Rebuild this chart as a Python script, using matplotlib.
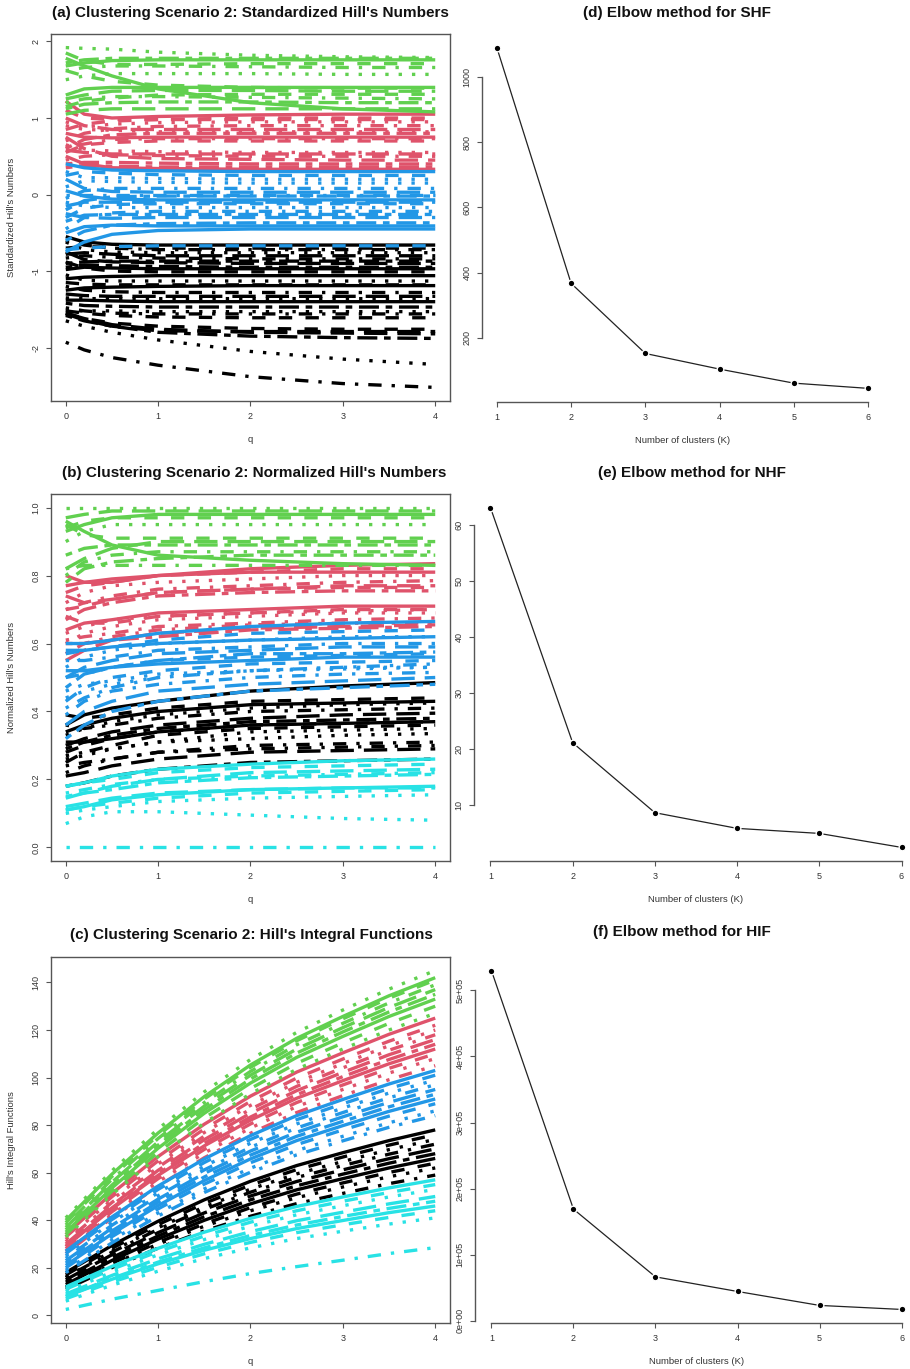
import matplotlib
matplotlib.use("Agg")
import matplotlib.pyplot as plt

plt.rcParams['font.family'] = ['Liberation Sans', 'DejaVu Sans']
plt.rcParams['axes.unicode_minus'] = False

# --------------------------------------------------
# Data
# --------------------------------------------------
q_grid = [0, 0.2, 0.5, 1, 2, 3, 4]
q_grid_hif = [0, 0.5, 1, 1.5, 2, 2.5, 3, 3.5, 4]
k_values = [1, 2, 3, 4, 5, 6]

# (a) standardized Hill's numbers, one row per community
shf_black = [
    [-0.55, -0.62, -0.65, -0.66, -0.66, -0.66, -0.66],
    [-0.70, -0.68, -0.69, -0.70, -0.70, -0.70, -0.70],
    [-0.62, -0.72, -0.75, -0.76, -0.76, -0.76, -0.76],
    [-0.83, -0.80, -0.82, -0.83, -0.84, -0.84, -0.84],
    [-0.75, -0.85, -0.88, -0.89, -0.90, -0.90, -0.90],
    [-0.95, -0.92, -0.93, -0.94, -0.95, -0.95, -0.95],
    [-1.10, -1.08, -1.07, -1.06, -1.06, -1.06, -1.06],
    [-0.88, -0.96, -1.00, -1.01, -1.01, -1.01, -1.01],
    [-1.05, -1.12, -1.13, -1.13, -1.13, -1.13, -1.13],
    [-1.20, -1.25, -1.27, -1.28, -1.28, -1.28, -1.28],
    [-1.30, -1.32, -1.33, -1.33, -1.33, -1.33, -1.33],
    [-1.42, -1.45, -1.46, -1.47, -1.47, -1.47, -1.47],
    [-1.25, -1.22, -1.21, -1.20, -1.19, -1.19, -1.19],
    [-1.55, -1.62, -1.68, -1.72, -1.75, -1.76, -1.76],
    [-1.65, -1.72, -1.80, -1.90, -2.05, -2.15, -2.22],
    [-1.93, -2.03, -2.13, -2.23, -2.38, -2.47, -2.52],
    [-1.55, -1.62, -1.70, -1.76, -1.80, -1.81, -1.82],
    [-1.58, -1.65, -1.72, -1.80, -1.85, -1.87, -1.88],
    [-1.38, -1.38, -1.39, -1.40, -1.40, -1.40, -1.40],
    [-1.52, -1.55, -1.58, -1.60, -1.61, -1.61, -1.61],
    [-1.52, -1.52, -1.52, -1.53, -1.53, -1.53, -1.53],
    [-0.60, -0.66, -0.70, -0.72, -0.72, -0.72, -0.72],
    [-0.78, -0.76, -0.78, -0.80, -0.80, -0.80, -0.80],
    [-0.90, -0.88, -0.87, -0.87, -0.87, -0.87, -0.87],
    [-0.98, -0.95, -0.96, -0.97, -0.97, -0.97, -0.97],
    [-1.15, -1.17, -1.18, -1.18, -1.18, -1.18, -1.18],
    [-1.35, -1.36, -1.36, -1.36, -1.36, -1.36, -1.36],
    [-1.48, -1.52, -1.55, -1.56, -1.56, -1.56, -1.56],
    [-1.56, -1.64, -1.72, -1.78, -1.79, -1.79, -1.79],
]
shf_red = [
    [1.22, 1.05, 1.00, 1.02, 1.04, 1.05, 1.05],
    [0.85, 0.92, 0.96, 0.98, 1.00, 1.00, 1.00],
    [0.95, 0.88, 0.92, 0.94, 0.95, 0.95, 0.95],
    [0.70, 0.80, 0.86, 0.89, 0.90, 0.90, 0.90],
    [1.00, 0.90, 0.85, 0.85, 0.85, 0.85, 0.85],
    [0.60, 0.72, 0.78, 0.80, 0.80, 0.80, 0.80],
    [0.80, 0.75, 0.74, 0.75, 0.75, 0.75, 0.75],
    [0.55, 0.65, 0.68, 0.70, 0.70, 0.70, 0.70],
    [0.65, 0.58, 0.57, 0.56, 0.55, 0.55, 0.55],
    [0.45, 0.50, 0.52, 0.51, 0.50, 0.50, 0.50],
    [0.75, 0.60, 0.50, 0.47, 0.46, 0.45, 0.45],
    [0.40, 0.42, 0.42, 0.41, 0.40, 0.40, 0.40],
    [0.50, 0.40, 0.35, 0.34, 0.33, 0.33, 0.33],
    [1.10, 1.00, 0.98, 0.98, 0.98, 0.98, 0.98],
    [0.90, 0.85, 0.84, 0.82, 0.82, 0.82, 0.82],
    [0.62, 0.66, 0.72, 0.73, 0.73, 0.73, 0.73],
    [0.58, 0.55, 0.53, 0.53, 0.53, 0.53, 0.53],
    [0.35, 0.38, 0.37, 0.36, 0.36, 0.36, 0.36],
]
shf_green = [
    [1.68, 1.72, 1.75, 1.76, 1.76, 1.76, 1.76],
    [1.85, 1.75, 1.70, 1.70, 1.71, 1.71, 1.71],
    [1.92, 1.91, 1.90, 1.86, 1.82, 1.80, 1.79],
    [1.20, 1.25, 1.28, 1.28, 1.27, 1.26, 1.25],
    [1.25, 1.30, 1.35, 1.36, 1.36, 1.35, 1.35],
    [1.12, 1.18, 1.20, 1.21, 1.21, 1.20, 1.20],
    [1.78, 1.68, 1.55, 1.38, 1.20, 1.12, 1.08],
    [1.62, 1.55, 1.48, 1.43, 1.40, 1.39, 1.39],
    [1.50, 1.55, 1.58, 1.58, 1.58, 1.57, 1.57],
    [1.62, 1.66, 1.68, 1.68, 1.67, 1.66, 1.66],
    [1.05, 1.10, 1.12, 1.12, 1.12, 1.12, 1.12],
    [1.72, 1.76, 1.78, 1.78, 1.78, 1.78, 1.78],
    [1.30, 1.38, 1.40, 1.40, 1.40, 1.40, 1.40],
    [1.15, 1.22, 1.26, 1.30, 1.31, 1.31, 1.31],
]
shf_blue = [
    [0.40, 0.35, 0.32, 0.31, 0.30, 0.30, 0.30],
    [0.25, 0.30, 0.28, 0.26, 0.25, 0.25, 0.25],
    [0.10, 0.18, 0.17, 0.16, 0.15, 0.15, 0.15],
    [-0.05, 0.05, 0.08, 0.08, 0.08, 0.08, 0.08],
    [0.20, 0.08, 0.04, 0.03, 0.03, 0.03, 0.03],
    [-0.20, -0.08, -0.03, -0.02, -0.02, -0.02, -0.02],
    [0.05, -0.02, -0.06, -0.07, -0.07, -0.07, -0.07],
    [-0.30, -0.18, -0.13, -0.12, -0.12, -0.12, -0.12],
    [-0.10, -0.15, -0.17, -0.17, -0.17, -0.17, -0.17],
    [-0.45, -0.30, -0.24, -0.22, -0.22, -0.22, -0.22],
    [-0.25, -0.30, -0.31, -0.30, -0.30, -0.30, -0.30],
    [-0.60, -0.48, -0.40, -0.38, -0.37, -0.37, -0.37],
    [-0.75, -0.62, -0.52, -0.47, -0.45, -0.45, -0.45],
    [-0.72, -0.70, -0.68, -0.67, -0.67, -0.67, -0.67],
    [0.30, 0.22, 0.22, 0.21, 0.20, 0.20, 0.20],
    [0.00, 0.00, 0.00, 0.00, 0.00, 0.00, 0.00],
    [-0.15, -0.10, -0.10, -0.10, -0.10, -0.10, -0.10],
    [-0.35, -0.27, -0.26, -0.26, -0.26, -0.26, -0.26],
    [-0.50, -0.42, -0.40, -0.41, -0.41, -0.41, -0.41],
]

# (b) normalized Hill's numbers
nhf_black = [
    [0.36, 0.39, 0.41, 0.43, 0.46, 0.475, 0.485],
    [0.39, 0.38, 0.39, 0.41, 0.43, 0.435, 0.44],
    [0.33, 0.35, 0.37, 0.39, 0.41, 0.42, 0.425],
    [0.36, 0.35, 0.36, 0.38, 0.40, 0.405, 0.41],
    [0.30, 0.32, 0.34, 0.36, 0.38, 0.39, 0.395],
    [0.29, 0.31, 0.33, 0.35, 0.37, 0.375, 0.38],
    [0.31, 0.31, 0.32, 0.34, 0.36, 0.365, 0.37],
    [0.25, 0.28, 0.30, 0.33, 0.35, 0.355, 0.36],
    [0.27, 0.28, 0.29, 0.31, 0.32, 0.33, 0.335],
    [0.22, 0.24, 0.26, 0.28, 0.30, 0.305, 0.31],
    [0.21, 0.22, 0.24, 0.26, 0.28, 0.285, 0.29],
    [0.18, 0.19, 0.21, 0.23, 0.25, 0.255, 0.26],
    [0.34, 0.36, 0.38, 0.40, 0.42, 0.425, 0.43],
    [0.28, 0.30, 0.32, 0.34, 0.36, 0.365, 0.37],
    [0.26, 0.27, 0.29, 0.31, 0.34, 0.345, 0.35],
    [0.24, 0.25, 0.26, 0.28, 0.29, 0.295, 0.30],
]
nhf_red = [
    [0.80, 0.78, 0.78, 0.80, 0.82, 0.83, 0.835],
    [0.75, 0.77, 0.78, 0.80, 0.81, 0.82, 0.82],
    [0.72, 0.75, 0.77, 0.78, 0.79, 0.80, 0.80],
    [0.70, 0.72, 0.74, 0.76, 0.77, 0.78, 0.785],
    [0.74, 0.72, 0.73, 0.75, 0.76, 0.77, 0.77],
    [0.67, 0.70, 0.72, 0.74, 0.75, 0.755, 0.755],
    [0.64, 0.66, 0.67, 0.69, 0.70, 0.71, 0.71],
    [0.68, 0.66, 0.66, 0.68, 0.69, 0.70, 0.70],
    [0.60, 0.63, 0.65, 0.67, 0.68, 0.69, 0.69],
    [0.61, 0.62, 0.63, 0.65, 0.66, 0.67, 0.675],
    [0.55, 0.58, 0.61, 0.63, 0.645, 0.65, 0.655],
    [0.60, 0.60, 0.61, 0.62, 0.64, 0.645, 0.65],
    [0.77, 0.78, 0.79, 0.80, 0.81, 0.81, 0.81],
    [0.70, 0.71, 0.73, 0.75, 0.76, 0.765, 0.765],
    [0.63, 0.65, 0.67, 0.68, 0.69, 0.695, 0.70],
    [0.57, 0.60, 0.62, 0.64, 0.655, 0.66, 0.66],
]
nhf_green = [
    [0.93, 0.95, 0.97, 0.98, 0.98, 0.98, 0.98],
    [0.95, 0.92, 0.91, 0.91, 0.91, 0.91, 0.91],
    [1.00, 1.00, 1.00, 1.00, 1.00, 1.00, 1.00],
    [0.80, 0.84, 0.86, 0.87, 0.87, 0.87, 0.87],
    [0.82, 0.85, 0.88, 0.90, 0.90, 0.90, 0.90],
    [0.78, 0.82, 0.84, 0.85, 0.86, 0.86, 0.86],
    [0.96, 0.93, 0.89, 0.86, 0.845, 0.835, 0.83],
    [0.94, 0.96, 0.97, 0.97, 0.97, 0.97, 0.97],
    [0.90, 0.93, 0.95, 0.95, 0.95, 0.95, 0.95],
    [0.82, 0.83, 0.83, 0.83, 0.83, 0.83, 0.83],
    [0.97, 0.98, 0.99, 0.99, 0.99, 0.99, 0.99],
    [0.86, 0.88, 0.89, 0.89, 0.89, 0.89, 0.89],
]
nhf_blue = [
    [0.60, 0.60, 0.61, 0.63, 0.65, 0.66, 0.665],
    [0.57, 0.58, 0.59, 0.61, 0.63, 0.635, 0.64],
    [0.53, 0.56, 0.58, 0.60, 0.61, 0.62, 0.62],
    [0.55, 0.55, 0.56, 0.58, 0.59, 0.60, 0.60],
    [0.50, 0.53, 0.55, 0.57, 0.58, 0.59, 0.59],
    [0.47, 0.51, 0.53, 0.55, 0.57, 0.57, 0.575],
    [0.52, 0.52, 0.53, 0.54, 0.55, 0.56, 0.56],
    [0.43, 0.47, 0.50, 0.52, 0.54, 0.545, 0.55],
    [0.46, 0.48, 0.49, 0.51, 0.52, 0.53, 0.53],
    [0.39, 0.43, 0.46, 0.48, 0.50, 0.51, 0.515],
    [0.36, 0.40, 0.43, 0.46, 0.48, 0.49, 0.50],
    [0.32, 0.36, 0.40, 0.43, 0.46, 0.47, 0.48],
    [0.58, 0.58, 0.59, 0.60, 0.61, 0.615, 0.62],
    [0.50, 0.51, 0.53, 0.55, 0.56, 0.565, 0.57],
    [0.44, 0.46, 0.48, 0.50, 0.52, 0.525, 0.53],
    [0.41, 0.44, 0.47, 0.50, 0.52, 0.53, 0.54],
]
nhf_cyan = [
    [0.18, 0.19, 0.21, 0.23, 0.245, 0.255, 0.26],
    [0.18, 0.19, 0.20, 0.22, 0.235, 0.24, 0.245],
    [0.07, 0.09, 0.105, 0.105, 0.095, 0.085, 0.08],
    [0.00, 0.00, 0.00, 0.00, 0.00, 0.00, 0.00],
    [0.145, 0.16, 0.18, 0.20, 0.22, 0.225, 0.23],
    [0.15, 0.16, 0.17, 0.19, 0.205, 0.21, 0.215],
    [0.11, 0.12, 0.14, 0.155, 0.17, 0.175, 0.18],
    [0.11, 0.12, 0.13, 0.145, 0.16, 0.165, 0.17],
    [0.10, 0.11, 0.12, 0.135, 0.145, 0.15, 0.155],
    [0.16, 0.17, 0.185, 0.20, 0.21, 0.215, 0.22],
    [0.12, 0.13, 0.145, 0.16, 0.17, 0.175, 0.175],
]

# (c) Hill's integral functions, sampled on q_grid_hif
hif_black = [
    [18, 29.4, 39.6, 48.6, 56.4, 63.0, 68.4, 73.5, 78],
    [17, 28.2, 38.2, 47.1, 54.8, 61.3, 66.6, 71.6, 76],
    [16, 27.0, 36.9, 45.6, 53.1, 59.5, 64.7, 69.7, 74],
    [16, 26.6, 36.2, 44.6, 51.8, 58.0, 63.0, 67.8, 72],
    [15, 25.5, 34.8, 43.1, 50.2, 56.3, 61.2, 65.9, 70],
    [14, 24.3, 33.4, 41.5, 48.6, 54.5, 59.4, 64.0, 68],
    [13, 23.1, 32.1, 40.0, 46.9, 52.8, 57.5, 62.0, 66],
    [12, 21.9, 30.7, 38.5, 45.3, 51.0, 55.7, 60.1, 64],
    [12, 21.5, 30.0, 37.5, 44.0, 49.5, 54.0, 58.3, 62],
    [11, 20.1, 28.3, 35.5, 41.7, 47.0, 51.3, 55.4, 59],
]
hif_red = [
    [34, 51.3, 66.8, 80.4, 92.2, 102.3, 110.4, 118.2, 125],
    [33, 49.9, 65.0, 78.4, 90.0, 99.8, 107.8, 115.3, 122],
    [32, 48.7, 63.7, 76.9, 88.3, 98.0, 105.9, 113.4, 120],
    [31, 47.5, 62.3, 75.4, 86.7, 96.3, 104.1, 111.5, 118],
    [30, 46.3, 61.0, 73.9, 85.0, 94.5, 102.2, 109.6, 116],
    [29, 45.2, 59.6, 72.4, 83.4, 92.8, 100.4, 107.6, 114],
    [29, 44.8, 58.9, 71.3, 82.1, 91.3, 98.7, 105.8, 112],
    [28, 43.6, 57.5, 69.8, 80.5, 89.5, 96.9, 103.9, 110],
    [27, 42.4, 56.2, 68.3, 78.8, 87.8, 95.0, 101.9, 108],
    [26, 41.0, 54.4, 66.3, 76.6, 85.3, 92.4, 99.1, 105],
]
hif_green = [
    [40, 59.4, 76.7, 92.0, 105.3, 116.5, 125.7, 134.4, 142],
    [39, 58.4, 75.7, 91.0, 104.3, 115.5, 124.7, 133.4, 141],
    [41, 60.8, 78.4, 94.0, 107.6, 119.0, 128.4, 137.2, 145],
    [38, 57.2, 74.4, 89.5, 102.6, 113.8, 122.8, 131.4, 139],
    [37, 56.0, 73.0, 88.0, 101.0, 112.0, 121.0, 129.5, 137],
    [36, 54.8, 71.6, 86.5, 99.4, 110.3, 119.2, 127.6, 135],
    [35, 53.6, 70.3, 85.0, 97.7, 108.5, 117.3, 125.7, 133],
    [34, 52.2, 68.6, 83.0, 95.4, 106.0, 114.6, 122.8, 130],
    [33, 50.9, 66.8, 80.9, 93.2, 103.5, 112.0, 120.0, 127],
]
hif_blue = [
    [27, 41.4, 54.4, 65.8, 75.6, 84.0, 90.8, 97.3, 103],
    [26, 40.3, 53.0, 64.3, 74.0, 82.3, 89.0, 95.4, 101],
    [25, 39.1, 51.6, 62.7, 72.4, 80.5, 87.2, 93.5, 99],
    [24, 37.9, 50.3, 61.2, 70.7, 78.8, 85.3, 91.5, 97],
    [23, 36.7, 48.9, 59.7, 69.1, 77.0, 83.5, 89.6, 95],
    [22, 35.5, 47.6, 58.2, 67.4, 75.3, 81.6, 87.7, 93],
    [21, 34.3, 46.2, 56.7, 65.8, 73.5, 79.8, 85.8, 91],
    [20, 33.1, 44.8, 55.2, 64.2, 71.8, 78.0, 83.8, 89],
    [19, 31.7, 43.1, 53.2, 61.9, 69.3, 75.3, 81.0, 86],
    [18, 30.5, 41.8, 51.7, 60.2, 67.5, 73.4, 79.1, 84],
]
hif_cyan = [
    [12, 20.6, 28.2, 35.0, 40.8, 45.8, 49.8, 53.6, 57],
    [11, 19.4, 26.8, 33.4, 39.2, 44.0, 48.0, 51.7, 55],
    [10, 18.2, 25.5, 31.9, 37.5, 42.3, 46.1, 49.8, 53],
    [2.5, 6.8, 10.5, 14.2, 17.6, 20.5, 23.2, 26.0, 28.5],
    [9, 16.8, 23.8, 29.9, 35.2, 39.8, 43.4, 46.9, 50],
    [8, 15.6, 22.4, 28.4, 33.6, 38.0, 41.6, 45.0, 48],
    [8, 15.2, 21.7, 27.4, 32.3, 36.5, 39.9, 43.2, 46],
    [7, 14.0, 20.3, 25.9, 30.7, 34.8, 38.1, 41.2, 44],
    [6, 12.7, 18.6, 23.9, 28.4, 32.3, 35.4, 38.4, 41],
]

# within-cluster sums of squares for the elbow plots
wss_shf = [1090, 367, 152, 104, 61, 45]
wss_nhf = [63.1, 21.1, 8.6, 5.8, 4.9, 2.4]
wss_hif = [530000, 169000, 66500, 44400, 23300, 17200]

# --------------------------------------------------
# Style (R 4.x default palette and line types)
# --------------------------------------------------
BLACK, RED, GREEN, BLUE, CYAN = "#000000", "#DF536B", "#61D04F", "#2297E6", "#28E2E5"
LTY = ['-', (0, (4, 4)), (0, (1, 3)), (0, (1, 3, 4, 3)), (0, (7, 3)), (0, (2, 2, 6, 2))]
AXIS_COL = "#555555"
TEXT_COL = "#333333"

W, H = 910, 1369
fig = plt.figure(figsize=(W / 100, H / 100), dpi=100)


def px_axes(x0, y0, x1, y1):
    return fig.add_axes([x0 / W, 1 - y1 / H, (x1 - x0) / W, (y1 - y0) / H])


def style_axes(ax, full_box):
    ax.tick_params(direction='out', length=3.6, width=0.8, color=AXIS_COL,
                   labelsize=6.5, labelcolor=TEXT_COL, pad=4)
    ax.tick_params(axis='y', labelrotation=90)
    for lab in ax.get_yticklabels():
        lab.set_verticalalignment('center')
    for s in ax.spines.values():
        s.set_color(AXIS_COL)
        s.set_linewidth(1.0)
    if not full_box:
        ax.spines['top'].set_visible(False)
        ax.spines['right'].set_visible(False)


def curve_panel(ax, qs, groups, yticks, ytick_labels, ylabel):
    for colour, rows in groups:
        for i, row in enumerate(rows):
            ax.plot(qs, row, color=colour, lw=2.4, ls=LTY[i % 6],
                    solid_capstyle='butt', dash_capstyle='butt')
    ax.margins(x=0.04, y=0.04)
    ax.set_xticks([0, 1, 2, 3, 4])
    ax.set_yticks(yticks)
    ax.set_yticklabels(ytick_labels)
    ax.set_xlabel("q", fontsize=6.8, color=TEXT_COL)
    ax.set_ylabel(ylabel, fontsize=6.8, color=TEXT_COL)
    ax.xaxis.set_label_coords(0.5, -0.093)
    ax.yaxis.set_label_coords(-0.087, 0.5)
    style_axes(ax, True)


def elbow_panel(ax, values, yticks, ytick_labels):
    ax.plot(k_values, values, color="#222222", lw=0.9, marker='o', ms=4.8,
            mfc='black', mec='white', mew=1.0)
    ax.margins(x=0.04, y=0.04)
    ax.set_xticks(k_values)
    ax.set_yticks(yticks)
    ax.set_yticklabels(ytick_labels)
    ax.spines['left'].set_bounds(yticks[0], yticks[-1])
    ax.spines['bottom'].set_bounds(k_values[0], k_values[-1])
    ax.set_xlabel("Number of clusters (K)", fontsize=6.8, color=TEXT_COL)
    ax.xaxis.set_label_coords(0.5, -0.092)
    style_axes(ax, False)


# --------------------------------------------------
# Left column: curves
# --------------------------------------------------
ax_a = px_axes(51, 34, 450, 401)
curve_panel(ax_a, q_grid,
            [(BLACK, shf_black), (RED, shf_red), (GREEN, shf_green), (BLUE, shf_blue)],
            [-2, -1, 0, 1, 2], ["-2", "-1", "0", "1", "2"], "Standardized Hill's Numbers")

ax_b = px_axes(51, 494, 450, 861)
curve_panel(ax_b, q_grid,
            [(BLACK, nhf_black), (RED, nhf_red), (GREEN, nhf_green),
             (BLUE, nhf_blue), (CYAN, nhf_cyan)],
            [0, 0.2, 0.4, 0.6, 0.8, 1.0], ["0.0", "0.2", "0.4", "0.6", "0.8", "1.0"],
            "Normalized Hill's Numbers")

ax_c = px_axes(51, 957, 450, 1323)
curve_panel(ax_c, q_grid_hif,
            [(BLACK, hif_black), (RED, hif_red), (GREEN, hif_green),
             (BLUE, hif_blue), (CYAN, hif_cyan)],
            [0, 20, 40, 60, 80, 100, 120, 140],
            ["0", "20", "40", "60", "80", "100", "120", "140"],
            "Hill's Integral Functions")

# --------------------------------------------------
# Right column: elbow plots
# --------------------------------------------------
ax_d = px_axes(482, 34, 883, 402)
elbow_panel(ax_d, wss_shf, [200, 400, 600, 800, 1000],
            ["200", "400", "600", "800", "1000"])

ax_e = px_axes(474, 494, 918, 861)
elbow_panel(ax_e, wss_nhf, [10, 20, 30, 40, 50, 60],
            ["10", "20", "30", "40", "50", "60"])

ax_f = px_axes(475, 957, 918, 1323)
elbow_panel(ax_f, wss_hif, [0, 100000, 200000, 300000, 400000, 500000],
            ["0e+00", "1e+05", "2e+05", "3e+05", "4e+05", "5e+05"])

# --------------------------------------------------
# Titles
# --------------------------------------------------
titles = [
    ("(a) Clustering Scenario 2: Standardized Hill's Numbers", 250, 13),
    ("(b) Clustering Scenario 2: Normalized Hill's Numbers", 254, 473),
    ("(c) Clustering Scenario 2: Hill's Integral Functions", 251, 935),
    ("(d) Elbow method for SHF", 677, 13),
    ("(e) Elbow method for NHF", 692, 473),
    ("(f) Elbow method for HIF", 682, 932),
]
for text, x, y in titles:
    fig.text(x / W, 1 - y / H, text, ha='center', va='center',
             fontsize=11, fontweight='bold', color="#111111")

fig.savefig("out.png", dpi=100)
